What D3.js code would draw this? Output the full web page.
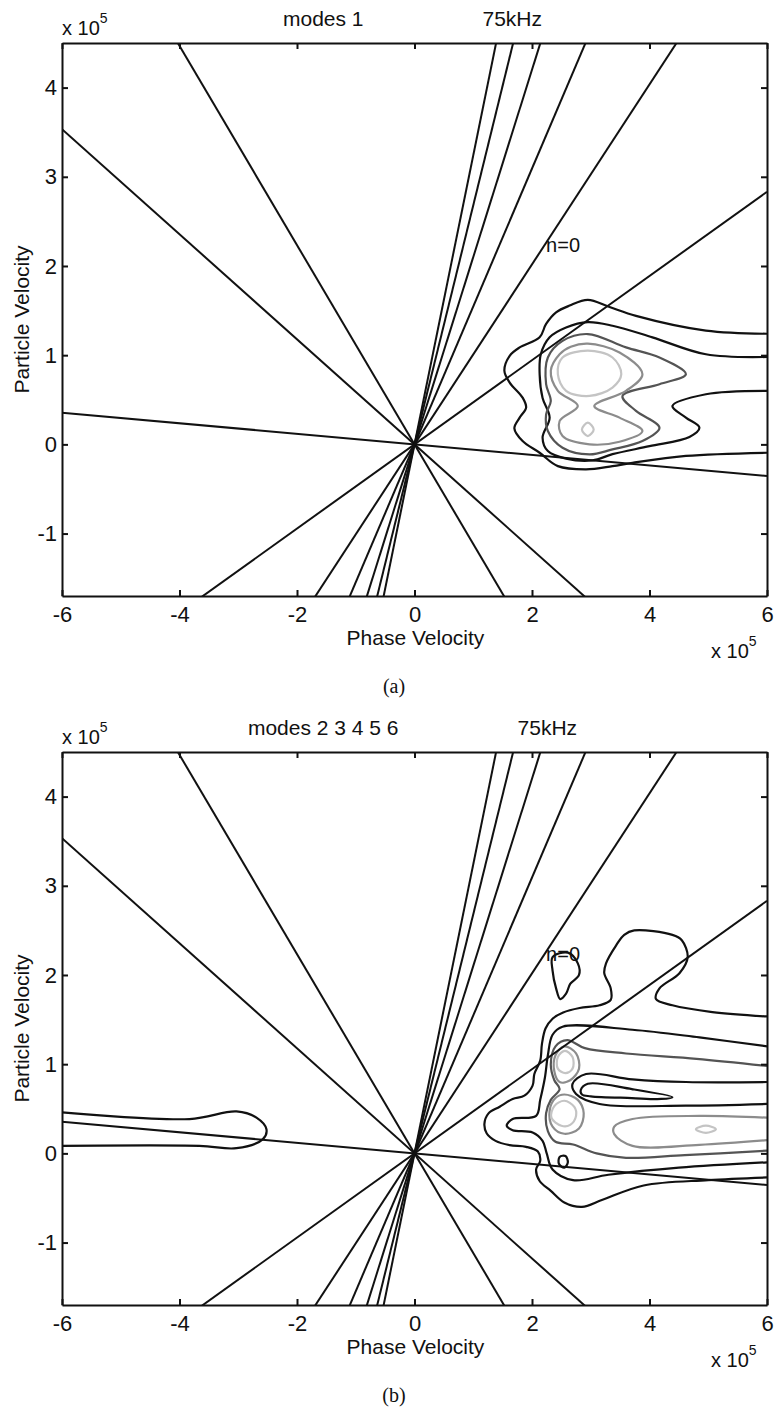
<!DOCTYPE html>
<html>
<head>
<meta charset="utf-8">
<script src="https://cdn.jsdelivr.net/npm/d3@7"></script>
<style>
body { margin: 0; background: #fff; }
svg text { font-family: "Liberation Sans", Arial, Helvetica, sans-serif; fill: #111; }
.axis path, .axis line { stroke: #111; stroke-width: 2; }
.ray { fill: none; stroke: #111; stroke-width: 2; }
.contour { fill: none; stroke-width: 2.2; stroke-linejoin: round; }
.caption { font-family: "Liberation Serif", "Times New Roman", serif !important; }
</style>
</head>
<body>
<svg id="chart" width="774" height="1410"></svg>
<script>
'use strict';

// axes (values in units of 10^5)
var xDomain = [-6, 6];
var yDomain = [-1.7, 4.5];
var xTicks = [-6, -4, -2, 0, 2, 4, 6];
var yTicks = [-1, 0, 1, 2, 3, 4];

var panelTitles = ['modes 1', 'modes 2 3 4 5 6'];
var freqLabel = '75kHz';
var captions = ['(a)', '(b)'];
var xLabel = 'Phase Velocity';
var yLabel = 'Particle Velocity';

// resonance lines through the origin: particle = slope * phase
var raySlopes = [-1.117, -0.589, -0.0592, 3.24, 2.68, 2.10, 1.546, 1.009, 0.472];
var rayLabel = {text: 'n=0', x: 2.24, y: 2.16};

// contour lines, [phase, particle] pairs
// panel (a)
var contourA1 = [[6.0,1.24],[4.96,1.275],[3.77,1.44],[3.32,1.54],[2.95,1.62],[2.64,1.556],[2.41,1.48],[2.24,1.35],[2.13,1.2],[1.79,1.087],[1.62,0.993],[1.53,0.825],[1.62,0.693],[1.84,0.524],[1.90,0.412],[1.79,0.3],[1.70,0.18],[1.84,0.037],[2.13,-0.094],[2.44,-0.244],[2.92,-0.28],[3.37,-0.244],[3.71,-0.207],[4.62,-0.13],[6.0,-0.094]];
var contourA2 = [[6.0,0.98],[4.96,1.01],[4.05,1.2],[3.37,1.33],[2.95,1.37],[2.58,1.31],[2.30,1.2],[2.15,1.01],[2.13,0.787],[2.18,0.52],[2.30,0.3],[2.18,0.075],[2.27,-0.075],[2.58,-0.16],[3.03,-0.18],[3.37,-0.11],[4.0,-0.02],[4.68,0.082],[4.85,0.187],[4.62,0.3],[4.39,0.43],[4.96,0.562],[6.0,0.6]];
var contourA3 = [[2.95,1.237],[3.6,1.087],[4.17,0.974],[4.62,0.787],[4.17,0.675],[3.54,0.543],[3.77,0.375],[4.17,0.187],[3.88,0.037],[3.37,-0.056],[2.98,-0.113],[2.52,-0.038],[2.27,0.15],[2.24,0.337],[2.32,0.487],[2.24,0.675],[2.27,0.974],[2.52,1.16]];
var contourA4 = [[2.95,1.13],[3.49,1.03],[3.88,0.787],[3.6,0.6],[3.06,0.43],[3.49,0.3],[3.88,0.15],[3.49,0.03],[2.98,0.0],[2.52,0.093],[2.47,0.262],[2.78,0.43],[2.44,0.6],[2.32,0.825],[2.47,1.01],[2.66,1.094]];
var contourA5a = [[2.95,1.05],[3.37,0.974],[3.52,0.787],[3.37,0.637],[2.98,0.543],[2.58,0.6],[2.44,0.787],[2.52,0.974]];
var contourA5b = [[2.95,0.243],[3.05,0.168],[2.95,0.093],[2.85,0.168]];

// panel (b)
var contourB1 = [[6.0,1.535],[5.07,1.584],[4.39,1.66],[4.11,1.73],[4.17,1.85],[4.51,2.02],[4.65,2.2],[4.55,2.39],[4.39,2.45],[3.74,2.5],[3.57,2.45],[3.43,2.33],[3.26,2.13],[3.23,2.02],[3.34,1.85],[3.34,1.72],[3.15,1.66],[2.81,1.63],[2.53,1.58],[2.35,1.51],[2.23,1.40],[2.17,1.23],[2.14,1.04],[2.04,0.89],[2.01,0.76],[1.87,0.647],[1.67,0.61],[1.45,0.523],[1.26,0.448],[1.19,0.33],[1.23,0.223],[1.38,0.14],[1.62,0.092],[1.90,0.073],[2.10,0.02],[2.14,-0.084],[2.07,-0.18],[2.13,-0.31],[2.32,-0.42],[2.55,-0.55],[2.85,-0.6],[3.2,-0.52],[3.9,-0.36],[5.0,-0.3],[6.0,-0.27]];
var contourB1blob = [[2.35,2.2],[2.61,2.25],[2.78,2.13],[2.80,2.0],[2.65,1.9],[2.58,1.79],[2.48,1.73],[2.41,1.85],[2.35,2.05]];
var contourB1left = [[-6.0,0.46],[-3.83,0.385],[-3.03,0.47],[-2.69,0.40],[-2.52,0.27],[-2.58,0.16],[-3.03,0.058],[-3.66,0.084],[-6.0,0.084]];
var contourB2 = [[6.0,1.2],[4.85,1.30],[3.71,1.386],[2.52,1.42],[2.35,1.33],[2.27,1.1],[2.22,0.85],[2.14,0.6],[2.07,0.42],[1.67,0.385],[1.57,0.31],[1.67,0.26],[2.01,0.234],[2.18,0.14],[2.25,0.0],[2.35,-0.18],[2.7,-0.3],[3.3,-0.24],[4.5,-0.16],[6.0,-0.1]];
var contourB2band = [[6.0,0.8],[4.62,0.8],[3.71,0.83],[2.92,0.89],[2.69,0.78],[2.75,0.666],[3.15,0.554],[4.62,0.535],[6.0,0.554]];
var contourB2tongue = [[2.83,0.71],[2.95,0.78],[3.7,0.72],[4.39,0.63],[4.2,0.61],[3.7,0.62],[3.0,0.64],[2.85,0.66]];
var contourB2small = [[2.47,-0.04],[2.57,-0.03],[2.61,-0.1],[2.55,-0.16],[2.46,-0.12]];
var contourB3 = [[6.0,0.98],[4.8,1.06],[3.6,1.12],[2.9,1.18],[2.6,1.27],[2.4,1.2],[2.32,1.0],[2.38,0.82],[2.47,0.72],[2.32,0.6],[2.24,0.45],[2.27,0.25],[2.4,0.13],[2.7,0.1],[3.1,0.0],[3.6,-0.05],[4.6,-0.02],[6.0,0.03]];
var contourB4upper = [[2.55,1.2],[2.75,1.12],[2.8,0.95],[2.65,0.82],[2.47,0.8],[2.38,0.92],[2.4,1.1]];
var contourB4lower = [[2.55,0.66],[2.78,0.6],[2.88,0.45],[2.8,0.28],[2.55,0.22],[2.35,0.3],[2.3,0.48],[2.4,0.62]];
var contourB4long = [[6.0,0.40],[4.85,0.42],[3.71,0.385],[3.4,0.3],[3.4,0.216],[3.71,0.084],[4.85,0.096],[6.0,0.148]];
var contourB5upper = [[2.56,1.15],[2.69,1.08],[2.69,0.95],[2.57,0.9],[2.44,0.95],[2.44,1.08]];
var contourB5lower = [[2.55,0.59],[2.72,0.52],[2.75,0.42],[2.65,0.32],[2.5,0.31],[2.33,0.4],[2.38,0.53]];
var contourB5long = [[4.79,0.27],[4.96,0.31],[5.13,0.27],[4.96,0.23]];

// [level, points]
var panelContours = [
    [[1, contourA1], [2, contourA2], [3, contourA3], [4, contourA4], [5, contourA5a], [5, contourA5b]],
    [[1, contourB1], [1, contourB1blob], [1, contourB1left], [2, contourB2], [2, contourB2band],
     [2, contourB2tongue], [2, contourB2small], [3, contourB3], [4, contourB4upper], [4, contourB4lower],
     [4, contourB4long], [5, contourB5upper], [5, contourB5lower], [5, contourB5long]]
];

var levelColor = d3.scaleOrdinal()
    .domain([1, 2, 3, 4, 5])
    .range(['#111', '#111', '#545454', '#8c8c8c', '#c4c4c4']);

var svg = d3.select('#chart');
var plotLeft = 62, plotRight = 767, plotH = 553;
var panelTops = [43, 752];

var x = d3.scaleLinear().domain(xDomain).range([plotLeft, plotRight]);

function drawPanel(i) {
    var top = panelTops[i];
    var bottom = top + plotH;
    var y = d3.scaleLinear().domain(yDomain).range([bottom, top]);
    var g = svg.append('g');

    g.append('clipPath').attr('id', 'clip' + i)
        .append('rect')
        .attr('x', plotLeft).attr('y', top)
        .attr('width', plotRight - plotLeft).attr('height', plotH);

    var plot = g.append('g').attr('clip-path', 'url(#clip' + i + ')');

    // contours
    var line = d3.line().x(function(d) { return x(d[0]); }).y(function(d) { return y(d[1]); });
    panelContours[i].forEach(function(c) {
        var pts = c[1];
        var open = Math.abs(pts[0][0]) >= 6 && Math.abs(pts[pts.length - 1][0]) >= 6;
        line.curve(open ? d3.curveCatmullRom.alpha(0.5) : d3.curveCatmullRomClosed.alpha(0.5));
        plot.append('path')
            .attr('class', 'contour')
            .attr('stroke', levelColor(c[0]))
            .attr('d', line(pts));
    });

    // rays through origin
    plot.selectAll('.ray')
        .data(raySlopes)
        .enter().append('line')
        .attr('class', 'ray')
        .attr('x1', x(xDomain[0])).attr('y1', function(s) { return y(s * xDomain[0]); })
        .attr('x2', x(xDomain[1])).attr('y2', function(s) { return y(s * xDomain[1]); });

    plot.append('text')
        .attr('x', x(rayLabel.x)).attr('y', y(rayLabel.y))
        .attr('font-size', 20)
        .text(rayLabel.text);

    // axes, ticks pointing inward like matlab
    var fmt = function(d) { return String(d); };
    g.append('g').attr('class', 'axis')
        .attr('transform', 'translate(0,' + bottom + ')')
        .call(d3.axisBottom(x).tickValues(xTicks).tickSizeInner(-6).tickSizeOuter(0).tickPadding(10).tickFormat(fmt));
    g.append('g').attr('class', 'axis')
        .attr('transform', 'translate(0,' + top + ')')
        .call(d3.axisTop(x).tickValues(xTicks).tickSizeInner(-6).tickSizeOuter(0).tickFormat(''));
    g.append('g').attr('class', 'axis')
        .attr('transform', 'translate(' + plotLeft + ',0)')
        .call(d3.axisLeft(y).tickValues(yTicks).tickSizeInner(-6).tickSizeOuter(0).tickPadding(5).tickFormat(fmt));
    g.append('g').attr('class', 'axis')
        .attr('transform', 'translate(' + plotRight + ',0)')
        .call(d3.axisRight(y).tickValues(yTicks).tickSizeInner(-6).tickSizeOuter(0).tickFormat(''));
    g.selectAll('.axis text')
        .attr('font-size', 22)
        .attr('font-family', null);

    // title: "modes ..." + gap + "75kHz", centred over the plot
    var t1 = g.append('text').attr('y', top - 17).attr('font-size', 21).text(panelTitles[i]);
    var t2 = g.append('text').attr('y', top - 17).attr('font-size', 21).text(freqLabel);
    var w1 = t1.node().getComputedTextLength();
    var w2 = t2.node().getComputedTextLength();
    var gap = 119;
    var start = (plotLeft + plotRight) / 2 - 2 - (w1 + gap + w2) / 2;
    t1.attr('x', start);
    t2.attr('x', start + w1 + gap);

    // exponent labels
    var e1 = g.append('text').attr('x', plotLeft).attr('y', top - 8).attr('font-size', 20).text('x 10');
    e1.append('tspan').attr('font-size', 14).attr('dy', -12).text('5');
    var e2 = g.append('text').attr('x', 711).attr('y', bottom + 62).attr('font-size', 20).text('x 10');
    e2.append('tspan').attr('font-size', 14).attr('dy', -12).text('5');

    g.append('text')
        .attr('x', (plotLeft + plotRight) / 2 + 1).attr('y', bottom + 49)
        .attr('text-anchor', 'middle').attr('font-size', 21)
        .text(xLabel);
    g.append('text')
        .attr('transform', 'translate(29,' + (top + plotH / 2) + ') rotate(-90)')
        .attr('text-anchor', 'middle').attr('font-size', 21)
        .text(yLabel);

    g.append('text')
        .attr('class', 'caption')
        .attr('x', 394).attr('y', bottom + 97)
        .attr('text-anchor', 'middle').attr('font-size', 20)
        .text(captions[i]);
}

drawPanel(0);
drawPanel(1);
</script>
</body>
</html>
